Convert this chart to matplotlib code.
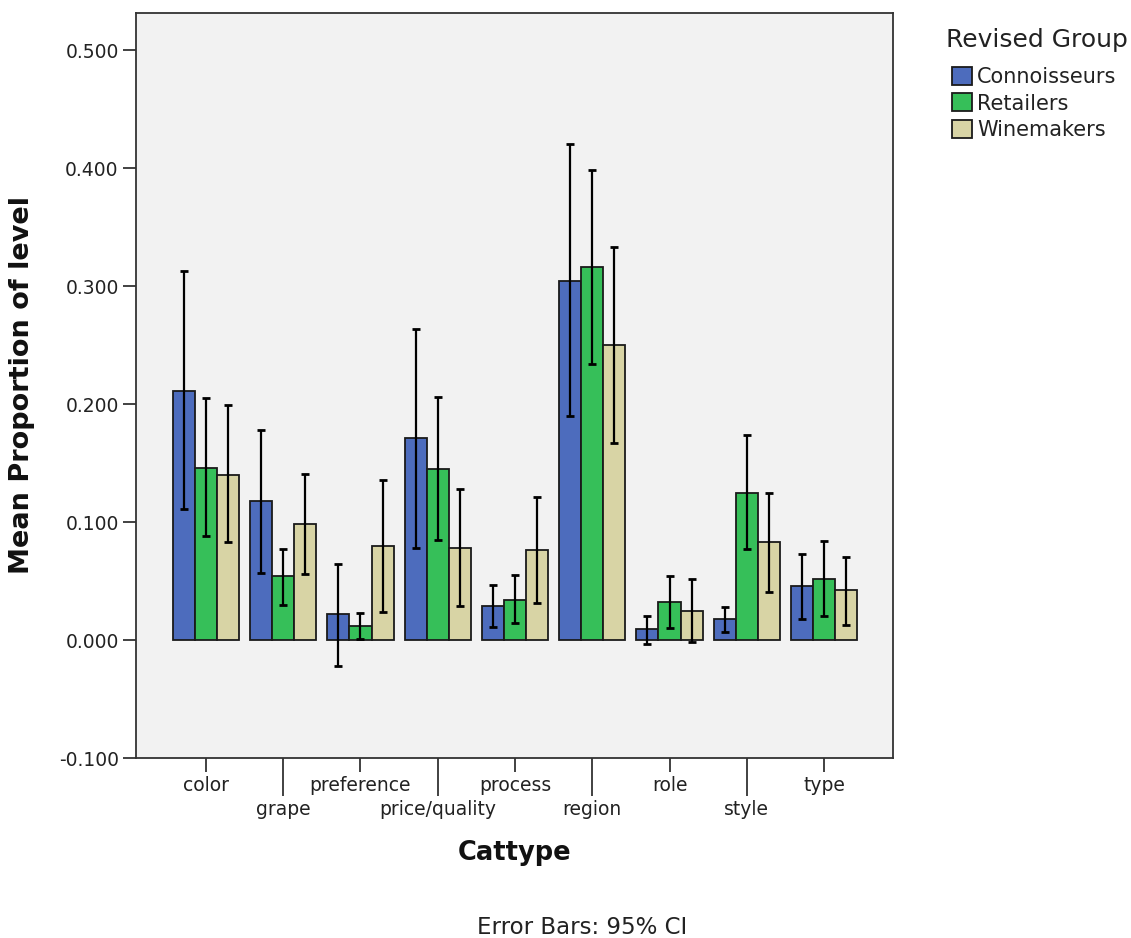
import matplotlib
matplotlib.use("Agg")
import matplotlib.pyplot as plt
import numpy as np
from matplotlib.patches import Patch
from matplotlib.ticker import FuncFormatter

categories = ["color", "grape", "preference", "price/quality", "process",
              "region", "role", "style", "type"]
groups = ["Connoisseurs", "Retailers", "Winemakers"]

conn_mean = [0.211, 0.118, 0.022, 0.171, 0.029, 0.304, 0.009, 0.018, 0.046]
conn_lo   = [0.111, 0.057, -0.022, 0.078, 0.011, 0.190, -0.003, 0.007, 0.018]
conn_hi   = [0.313, 0.178, 0.064, 0.264, 0.047, 0.420, 0.020, 0.028, 0.073]

ret_mean = [0.146, 0.054, 0.012, 0.145, 0.034, 0.316, 0.032, 0.125, 0.052]
ret_lo   = [0.088, 0.030, 0.001, 0.085, 0.014, 0.234, 0.010, 0.077, 0.020]
ret_hi   = [0.205, 0.077, 0.023, 0.206, 0.055, 0.398, 0.054, 0.174, 0.084]

win_mean = [0.140, 0.098, 0.080, 0.078, 0.076, 0.250, 0.025, 0.083, 0.042]
win_lo   = [0.083, 0.056, 0.024, 0.029, 0.031, 0.167, -0.002, 0.041, 0.013]
win_hi   = [0.199, 0.141, 0.136, 0.128, 0.121, 0.333, 0.052, 0.125, 0.070]

yticks = [-0.1, 0.0, 0.1, 0.2, 0.3, 0.4, 0.5]

colors = ["#4d6cbd", "#36bf59", "#d8d4a5"]
series = [(conn_mean, conn_lo, conn_hi), (ret_mean, ret_lo, ret_hi),
          (win_mean, win_lo, win_hi)]

plt.rcParams['font.family'] = ['DejaVu Sans']
W, H = 1131, 938
fig = plt.figure(figsize=(W / 100, H / 100), dpi=100)
ax = fig.add_axes([136 / W, (H - 758) / H, (893 - 136) / W, (758 - 13) / H])
ax.set_facecolor("#f2f2f2")

x = np.arange(len(categories))
bw = 0.285
for k, (m, lo, hi) in enumerate(series):
    m = np.array(m); lo = np.array(lo); hi = np.array(hi)
    pos = x + (k - 1) * bw
    ax.bar(pos, m, width=bw, color=colors[k], edgecolor="#1a1a1a",
           linewidth=1.3, zorder=2)
    ax.errorbar(pos, m, yerr=[m - lo, hi - m], fmt="none", ecolor="black",
                elinewidth=1.6, capsize=2.6, capthick=2, zorder=3)

ax.set_xlim(-0.906, 8.893)
ax.set_ylim(-0.1, 0.5314)
ax.set_yticks(yticks)
ax.yaxis.set_major_formatter(FuncFormatter(lambda v, p: f"{v:.3f}".replace("-0.000", "0.000")))
ax.tick_params(axis="y", length=9.5, width=1.3, labelsize=13.5, colors="#333333",
               labelcolor="#222222", pad=3)

even = [i for i in range(len(categories)) if i % 2 == 0]
odd = [i for i in range(len(categories)) if i % 2 == 1]
ax.set_xticks(even, [categories[i] for i in even])
ax.set_xticks(odd, [categories[i] for i in odd], minor=True)
ax.tick_params(axis="x", which="major", length=10, width=1.3, labelsize=13.5,
               colors="#333333", labelcolor="#222222", pad=3)
ax.tick_params(axis="x", which="minor", length=27, width=1.3, labelsize=13.5,
               colors="#333333", labelcolor="#222222", pad=3)

for s in ax.spines.values():
    s.set_color("#333333")
    s.set_linewidth(1.3)

fig.text(22 / W, 1 - 385 / H, "Mean Proportion of level", rotation=90,
         ha="center", va="center", fontsize=19.5, fontweight="bold", color="#111111")
fig.text(515 / W, 1 - 853 / H, "Cattype", ha="center", va="center",
         fontsize=18.5, fontweight="bold", color="#111111")
fig.text(582 / W, 1 - 927 / H, "Error Bars: 95% CI", ha="center", va="center",
         fontsize=16.5, color="#222222")

fig.text(946 / W, 1 - 40 / H, "Revised Group", ha="left", va="center",
         fontsize=18, color="#222222")
handles = [Patch(facecolor=c, edgecolor="#1a1a1a", linewidth=1.3) for c in colors]
leg = fig.legend(handles, groups, loc="upper left",
                 bbox_to_anchor=(952 / W, 1 - 67 / H), frameon=False,
                 fontsize=15, handlelength=0.95, handleheight=0.95,
                 handletextpad=0.25, labelspacing=0.3, borderpad=0,
                 borderaxespad=0)
for t in leg.get_texts():
    t.set_color("#222222")

fig.savefig("out.png", dpi=100)
